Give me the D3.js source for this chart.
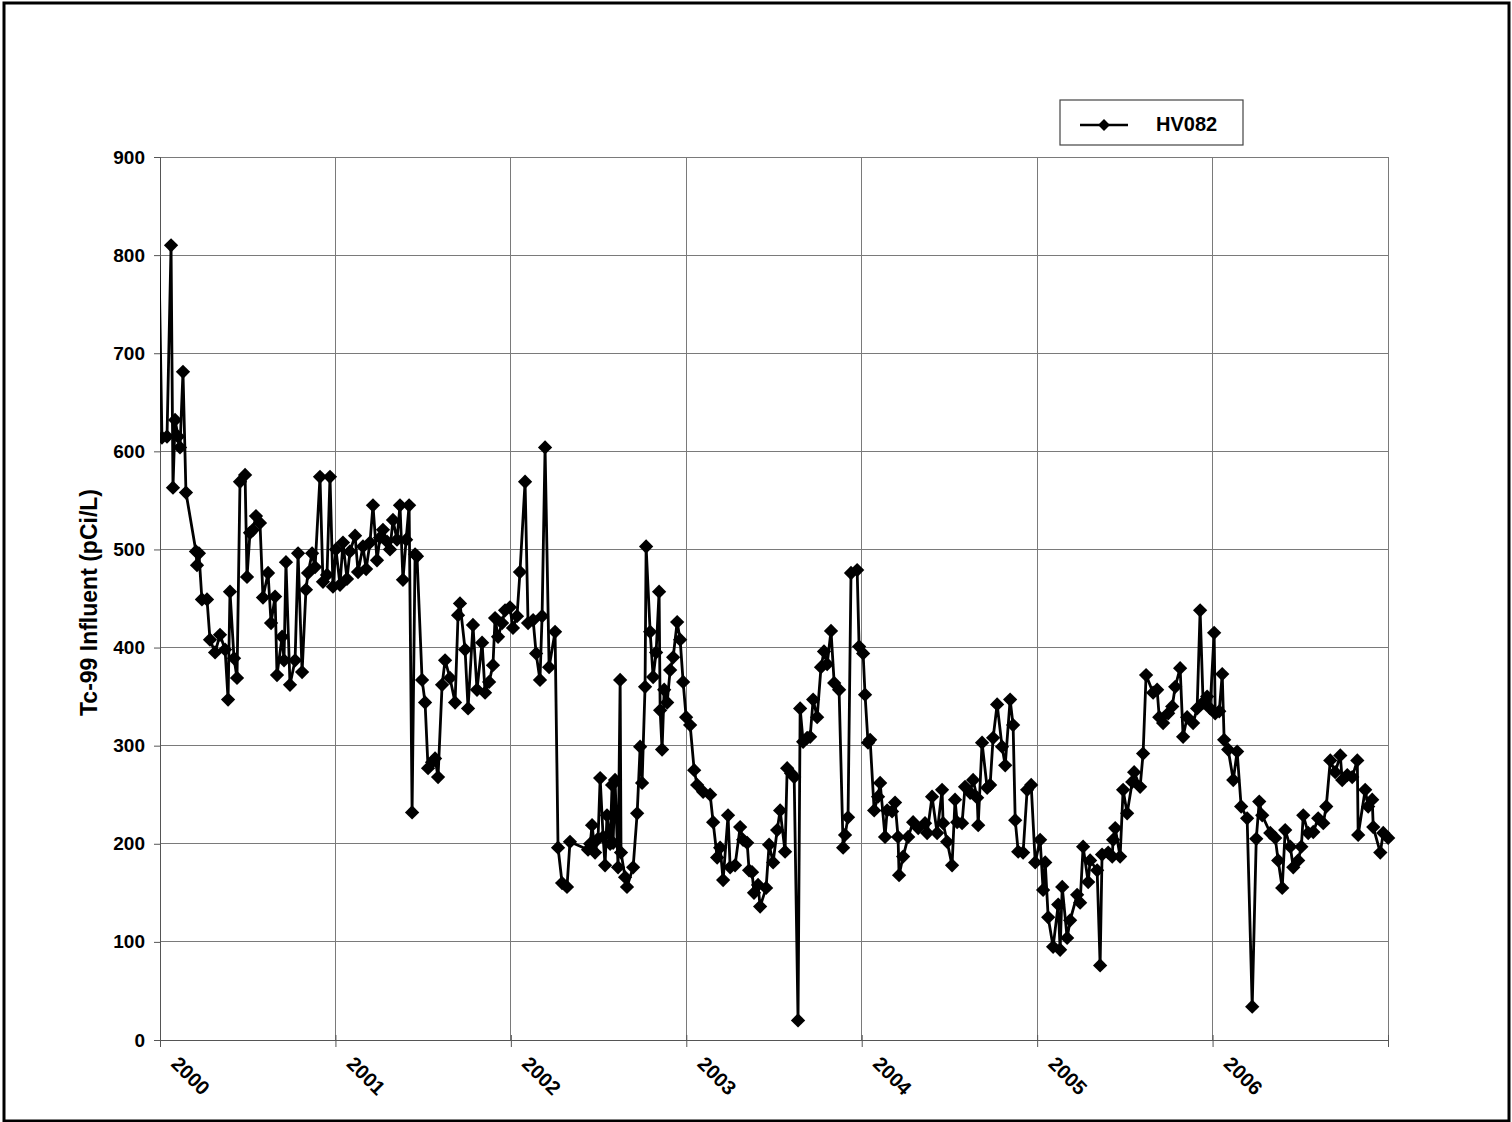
<!DOCTYPE html>
<html>
<head>
<meta charset="utf-8">
<script src="https://cdn.jsdelivr.net/npm/d3@7"></script>
<style>
  html, body { margin: 0; padding: 0; background: #fff; }
  svg { display: block; }
  .lbl { font-family: "Liberation Sans", Arial, sans-serif; font-weight: bold; fill: #000; }
  .ttl { font-family: "Liberation Sans Narrow", "Arial Narrow", "Liberation Sans", sans-serif; font-weight: bold; fill: #000; }
</style>
</head>
<body>
<svg id="chart" width="1512" height="1122"></svg>
<script>
// Sampling dates (decimal years) and Tc-99 influent results for well HV082
const sampleYear = [
  1999.989, 1999.994, 2000.011, 2000.040, 2000.063, 2000.074, 2000.086, 2000.103, 2000.114, 2000.131,
  2000.148, 2000.205, 2000.211, 2000.222, 2000.239, 2000.268, 2000.285, 2000.314, 2000.342, 2000.371,
  2000.388, 2000.399, 2000.422, 2000.439, 2000.456, 2000.485, 2000.496, 2000.513, 2000.530, 2000.547,
  2000.570, 2000.587, 2000.616, 2000.633, 2000.656, 2000.667, 2000.696, 2000.707, 2000.718, 2000.741,
  2000.770, 2000.787, 2000.810, 2000.832, 2000.844, 2000.867, 2000.884, 2000.912, 2000.929, 2000.952,
  2000.969, 2000.986,
  2001.003, 2001.026, 2001.043, 2001.066, 2001.083, 2001.112, 2001.129, 2001.157, 2001.175, 2001.197,
  2001.214, 2001.237, 2001.254, 2001.271, 2001.294, 2001.311, 2001.328, 2001.351, 2001.368, 2001.385,
  2001.403, 2001.420, 2001.437, 2001.454, 2001.465, 2001.494, 2001.511, 2001.528, 2001.551, 2001.568,
  2001.585, 2001.608, 2001.625, 2001.653, 2001.682, 2001.699, 2001.710, 2001.739, 2001.756, 2001.784,
  2001.807, 2001.836, 2001.853, 2001.876, 2001.898, 2001.910, 2001.927, 2001.950, 2001.967, 2001.995,
  2002.012, 2002.035, 2002.052, 2002.081, 2002.098, 2002.127, 2002.144, 2002.166, 2002.178, 2002.195,
  2002.218, 2002.252, 2002.269, 2002.292, 2002.320, 2002.337, 2002.440, 2002.452, 2002.463, 2002.480,
  2002.497, 2002.509, 2002.526, 2002.537, 2002.548, 2002.566, 2002.577, 2002.583, 2002.594, 2002.611,
  2002.623, 2002.628, 2002.651, 2002.662, 2002.697, 2002.720, 2002.737, 2002.748, 2002.765, 2002.771,
  2002.794, 2002.811, 2002.828, 2002.845, 2002.851, 2002.862, 2002.874, 2002.891, 2002.908, 2002.925,
  2002.948, 2002.965, 2002.982,
  2002.999, 2003.022, 2003.045, 2003.062, 2003.096, 2003.136, 2003.153, 2003.176, 2003.193, 2003.210,
  2003.238, 2003.250, 2003.278, 2003.307, 2003.324, 2003.347, 2003.358, 2003.375, 2003.386, 2003.409,
  2003.421, 2003.455, 2003.472, 2003.495, 2003.518, 2003.535, 2003.563, 2003.575, 2003.597, 2003.615,
  2003.637, 2003.649, 2003.666, 2003.689, 2003.706, 2003.723, 2003.746, 2003.768, 2003.785, 2003.803,
  2003.825, 2003.843, 2003.871, 2003.894, 2003.905, 2003.922, 2003.939, 2003.974, 2003.985,
  2004.008, 2004.019, 2004.036, 2004.048, 2004.071, 2004.093, 2004.105, 2004.133, 2004.145, 2004.173,
  2004.190, 2004.207, 2004.213, 2004.236, 2004.265, 2004.293, 2004.322, 2004.361, 2004.373, 2004.401,
  2004.430, 2004.458, 2004.464, 2004.487, 2004.515, 2004.532, 2004.544, 2004.572, 2004.589, 2004.618,
  2004.635, 2004.658, 2004.664, 2004.686, 2004.715, 2004.732, 2004.749, 2004.772, 2004.800, 2004.818,
  2004.846, 2004.863, 2004.875, 2004.892, 2004.920, 2004.943, 2004.966, 2004.989,
  2005.017, 2005.034, 2005.046, 2005.063, 2005.091, 2005.120, 2005.131, 2005.143, 2005.171, 2005.188,
  2005.228, 2005.245, 2005.262, 2005.291, 2005.302, 2005.342, 2005.359, 2005.370, 2005.405, 2005.428,
  2005.433, 2005.445, 2005.473, 2005.490, 2005.513, 2005.542, 2005.553, 2005.587, 2005.604, 2005.621,
  2005.661, 2005.684, 2005.696, 2005.718, 2005.747, 2005.770, 2005.787, 2005.815, 2005.832, 2005.855,
  2005.889, 2005.912, 2005.929, 2005.946, 2005.969, 2005.986, 2006.009,
  2006.015, 2006.038, 2006.055, 2006.066, 2006.089, 2006.118, 2006.140, 2006.163, 2006.197, 2006.226,
  2006.249, 2006.266, 2006.283, 2006.329, 2006.357, 2006.374, 2006.397, 2006.414, 2006.443, 2006.460,
  2006.488, 2006.506, 2006.517, 2006.545, 2006.574, 2006.602, 2006.631, 2006.648, 2006.671, 2006.699,
  2006.728, 2006.739, 2006.768, 2006.796, 2006.825, 2006.830, 2006.870, 2006.887, 2006.910, 2006.916,
  2006.956, 2006.973, 2007.001
];

const hv082 = [
  668, 797, 614, 615, 810, 563, 632, 615, 604, 681,
  558, 498, 484, 496, 449, 449, 408, 395, 413, 398,
  347, 457, 389, 369, 569, 576, 472, 517, 520, 534,
  527, 451, 476, 425, 452, 372, 411, 387, 487, 362,
  387, 496, 375, 459, 476, 496, 482, 574, 467, 474,
  574, 462,
  500, 464, 507, 470, 498, 514, 477, 503, 480, 507,
  545, 489, 512, 520, 508, 500, 530, 510, 545, 469,
  510, 545, 232, 495, 493, 367, 344, 277, 283, 287,
  268, 362, 387, 369, 344, 433, 445, 398, 338, 423,
  357, 405, 354, 365, 382, 430, 411, 425, 438, 441,
  420, 432, 477, 569, 425, 428, 394, 367, 432, 604,
  380, 416, 196, 160, 156, 202, 194, 200, 219, 191,
  205, 267, 207, 178, 229, 200, 260, 201, 265, 176,
  367, 191, 166, 156, 176, 231, 299, 262, 360, 503,
  416, 370, 395, 457, 336, 296, 357, 344, 377, 390,
  426, 408, 365,
  329, 321, 275, 260, 253, 250, 222, 186, 196, 163,
  229, 176, 178, 217, 204, 201, 173, 171, 150, 158,
  136, 155, 199, 181, 214, 234, 192, 277, 272, 268,
  20, 338, 304, 308, 309, 347, 329, 380, 396, 383,
  417, 364, 357, 196, 209, 227, 476, 479, 401,
  394, 352, 303, 306, 234, 248, 262, 207, 234, 233,
  242, 207, 168, 187, 207, 222, 216, 221, 211, 248,
  211, 255, 221, 202, 178, 245, 222, 221, 258, 252,
  265, 247, 219, 303, 257, 260, 308, 342, 299, 280,
  347, 321, 224, 192, 191, 255, 260, 181,
  204, 153, 181, 125, 95, 138, 92, 156, 104, 122,
  148, 140, 197, 161, 183, 173, 76, 189, 191, 187,
  204, 216, 187, 255, 231, 263, 273, 258, 292, 372,
  354, 357, 329, 323, 333, 340, 360, 379, 309, 329,
  323, 338, 438, 344, 350, 338, 415,
  333, 335, 373, 306, 296, 265, 294, 238, 226, 34,
  205, 243, 229, 211, 206, 183, 155, 214, 197, 176,
  183, 197, 229, 211, 212, 226, 221, 238, 285, 273,
  290, 265, 270, 268, 285, 209, 255, 238, 245, 217,
  191, 211, 206
];

const yTicks = [0, 100, 200, 300, 400, 500, 600, 700, 800, 900];
const yearTicks = [2000, 2001, 2002, 2003, 2004, 2005, 2006, 2007];
const yearLabels = ["2000", "2001", "2002", "2003", "2004", "2005", "2006"];
const seriesName = "HV082";
const yTitle = "Tc-99 Influent (pCi/L)";

const svg = d3.select("#chart");
const W = 1512, H = 1122;
const plot = { left: 160, right: 1388, top: 157, bottom: 1040 };

// page frame
svg.append("rect").attr("x", 4).attr("y", 3).attr("width", W - 7).attr("height", H - 4)
  .attr("fill", "#fff").attr("stroke", "#000").attr("stroke-width", 3);

const x = d3.scaleLinear().domain([2000, 2007]).range([plot.left, plot.right]);
const y = d3.scaleLinear().domain([0, 900]).range([plot.bottom, plot.top]);

// gridlines
const grid = svg.append("g").attr("stroke", "#7a7a7a").attr("stroke-width", 1).attr("shape-rendering", "crispEdges");
grid.selectAll(".gy").data(yTicks).join("line")
  .attr("x1", plot.left).attr("x2", plot.right)
  .attr("y1", d => y(d)).attr("y2", d => y(d));
grid.selectAll(".gx").data(yearTicks).join("line")
  .attr("x1", d => x(d)).attr("x2", d => x(d))
  .attr("y1", plot.top).attr("y2", plot.bottom);

// axes
const yAxis = svg.append("g").attr("transform", `translate(${plot.left},0)`)
  .call(d3.axisLeft(y).tickValues(yTicks).tickSize(6).tickPadding(9));
yAxis.select(".domain").attr("stroke", "#555");
yAxis.selectAll(".tick line").attr("stroke", "#555");
yAxis.selectAll(".tick text").attr("class", "lbl").style("font-size", "19px");

const xAxis = svg.append("g").attr("transform", `translate(0,${plot.bottom})`)
  .call(d3.axisBottom(x).tickValues(yearTicks).tickSize(7).tickFormat(() => ""));
xAxis.select(".domain").attr("stroke", "#555");
xAxis.selectAll(".tick line").attr("stroke", "#555").attr("y1", -5);

svg.append("g").selectAll("text").data(yearLabels).join("text")
  .attr("class", "lbl")
  .style("font-size", "20px")
  .attr("transform", d => `translate(${x(+d) + 10},${plot.bottom + 25}) rotate(45)`)
  .text(d => d);

// y title
svg.append("text").attr("class", "ttl").style("font-size", "23px")
  .attr("text-anchor", "middle")
  .attr("transform", `translate(97,${(plot.top + plot.bottom) / 2 + 4}) rotate(-90)`)
  .text(yTitle);

// series
const pts = sampleYear.map((t, i) => [t, hv082[i]]);
svg.append("clipPath").attr("id", "clip").append("rect")
  .attr("x", plot.left).attr("y", plot.top - 10)
  .attr("width", plot.right - plot.left + 10).attr("height", plot.bottom - plot.top + 20);

const series = svg.append("g").attr("clip-path", "url(#clip)");
series.append("path").datum(pts)
  .attr("fill", "none").attr("stroke", "#000").attr("stroke-width", 2.8)
  .attr("stroke-linejoin", "round")
  .attr("d", d3.line().x(d => x(d[0])).y(d => y(d[1])));

const diamond = d3.symbol().type(d3.symbolDiamond2).size(130);
series.selectAll("path.mk").data(pts.filter(d => d[0] >= 2000)).join("path")
  .attr("class", "mk")
  .attr("transform", d => `translate(${x(d[0])},${y(d[1])})`)
  .attr("d", d => diamond(d))
  .attr("fill", "#000");

// legend
const lg = svg.append("g").attr("transform", "translate(1060,100)");
lg.append("rect").attr("width", 183).attr("height", 45)
  .attr("fill", "#fff").attr("stroke", "#444").attr("stroke-width", 1.2);
lg.append("line").attr("x1", 20).attr("x2", 68).attr("y1", 25).attr("y2", 25)
  .attr("stroke", "#000").attr("stroke-width", 2.6);
lg.append("path").attr("transform", "translate(44,25)").attr("d", d3.symbol().type(d3.symbolDiamond2).size(90)()).attr("fill", "#000");
lg.append("text").attr("class", "lbl").style("font-size", "20px")
  .attr("x", 96).attr("y", 31).text(seriesName);
</script>
</body>
</html>
